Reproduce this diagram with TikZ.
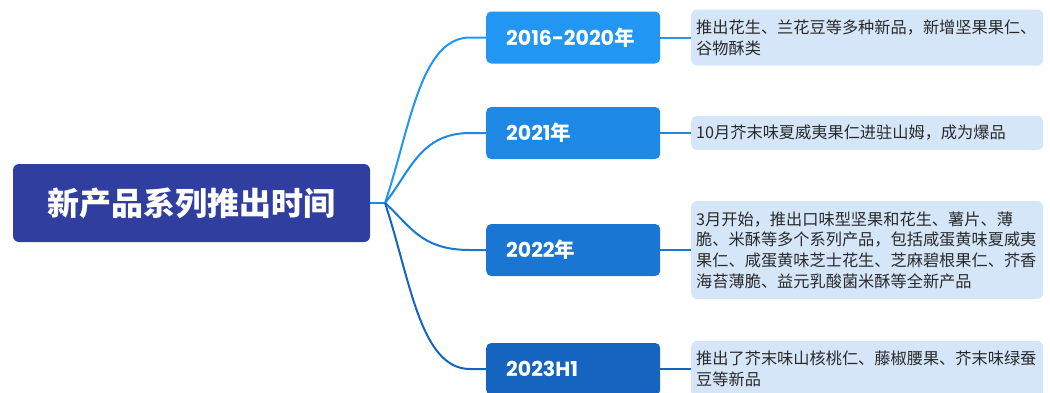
\documentclass[tikz,border=0pt]{standalone}
\usepackage{fontspec}
\setmainfont{Noto Sans CJK SC}
\newfontfamily\pop{Poppins}
\usetikzlibrary{calc}
\definecolor{rootc}{HTML}{303F9F}
\definecolor{ca}{HTML}{2196F3}
\definecolor{cb}{HTML}{1E88E5}
\definecolor{cc}{HTML}{1976D2}
\definecolor{cd}{HTML}{1565C0}
\definecolor{detc}{HTML}{D5E6F9}
\definecolor{txtc}{HTML}{2A2A2A}
\begin{document}
\begin{tikzpicture}[x=1pt,y=-1pt,
 rootbox/.style={fill=rootc, rounded corners=6pt, text=white, font=\fontsize{32}{36}\selectfont\bfseries, minimum width=357pt, minimum height=78pt, inner sep=0pt},
 yearbox/.style={rounded corners=5pt, text=white, anchor=west, minimum width=174pt, minimum height=52pt, text width=134pt, inner xsep=20pt, inner ysep=0pt, align=left, font=\fontsize{20.5}{24}\selectfont\bfseries},
 detail/.style={fill=detc, rounded corners=6pt, text=txtc, anchor=west, text width=342pt, inner xsep=5pt, inner ysep=0pt, align=left, font=\fontsize{16.2}{20.7}\selectfont},
 link/.style={line width=2pt}
]
\useasboundingbox (0,0) rectangle (1050,392);
\node[rootbox] (root) at (191.5,203) {新产品系列推出时间};
\coordinate (j) at (385,203);
\node[yearbox, fill=ca] (y1) at (486,37.5) {{\pop 2016-2020}年};
\node[yearbox, fill=cb] (y2) at (486,133) {{\pop 2021}年};
\node[yearbox, fill=cc] (y3) at (486,250) {{\pop 2022}年};
\node[yearbox, fill=cd] (y4) at (486,369) {{\pop 2023H1}};
\node[detail, minimum height=56pt] (d1) at (691,37.5) {推出花生、兰花豆等多种新品，新增坚果果仁、\\谷物酥类};
\node[detail, minimum height=34pt] (d2) at (691,133) {10月芥末味夏威夷果仁进驻山姆，成为爆品};
\node[detail, minimum height=98pt] (d3) at (691,250) {3月开始，推出口味型坚果和花生、薯片、薄\\脆、米酥等多个系列产品，包括咸蛋黄味夏威夷\\果仁、咸蛋黄味芝士花生、芝麻碧根果仁、芥香\\海苔薄脆、益元乳酸菌米酥等全新产品};
\node[detail, minimum height=56pt] (d4) at (691,369) {推出了芥末味山核桃仁、藤椒腰果、芥末味绿蚕\\豆等新品};
\draw[link, draw=cb] (root.east) -- (j);
\draw[link, draw=ca] (j) .. controls ($(j)+(25,-74)$) and ($(y1.west)+(-66,0)$) .. ($(y1.west)+(-16,0)$) -- (y1.west);
\draw[link, draw=cb] (j) .. controls ($(j)+(25,-31)$) and ($(y2.west)+(-66,0)$) .. ($(y2.west)+(-16,0)$) -- (y2.west);
\draw[link, draw=cc] (j) .. controls ($(j)+(25,22)$) and ($(y3.west)+(-66,0)$) .. ($(y3.west)+(-16,0)$) -- (y3.west);
\draw[link, draw=cd] (j) .. controls ($(j)+(25,75)$) and ($(y4.west)+(-66,0)$) .. ($(y4.west)+(-16,0)$) -- (y4.west);
\draw[link, draw=ca] (y1.east) -- (d1.west);
\draw[link, draw=cb] (y2.east) -- (d2.west);
\draw[link, draw=cc] (y3.east) -- (d3.west);
\draw[link, draw=cd] (y4.east) -- (d4.west);
\end{tikzpicture}
\end{document}
